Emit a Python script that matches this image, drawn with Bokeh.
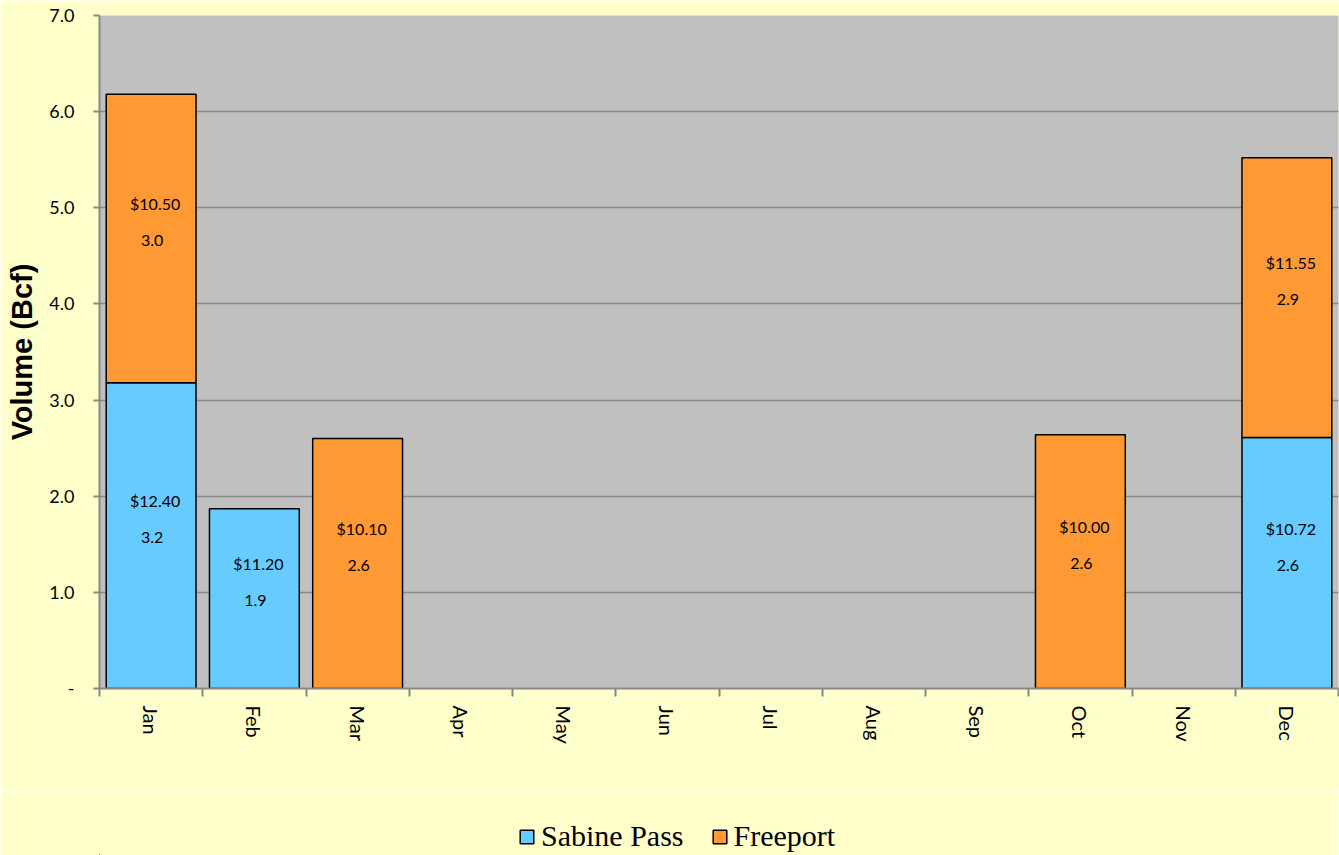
import math
from bokeh.plotting import figure
from bokeh.layouts import column
from bokeh.models import (ColumnDataSource, Range1d, FixedTicker, Legend, LegendItem)
from bokeh.core.properties import value
from bokeh.embed import file_html
from bokeh.resources import INLINE

months = ["Jan", "Feb", "Mar", "Apr", "May", "Jun", "Jul", "Aug", "Sep", "Oct", "Nov", "Dec"]
sabine = [3.18, 1.87, 0, 0, 0, 0, 0, 0, 0, 0, 0, 2.61]
freeport = [3.00, 0, 2.60, 0, 0, 0, 0, 0, 0, 2.64, 0, 2.91]
sabine_price = ["$12.40", "$11.20", "", "", "", "", "", "", "", "", "", "$10.72"]
freeport_price = ["$10.50", "", "$10.10", "", "", "", "", "", "", "$10.00", "", "$11.55"]
series_names = ["Sabine Pass", "Freeport"]
y_ticks = [0, 1, 2, 3, 4, 5, 6, 7]

BLUE = "#66CCFF"
ORANGE = "#FF9933"
YELLOW = "#FFFFCC"
GRAY = "#888888"

def build(vals, bottoms, prices):
    xs, tops, bots, mids, vl, pl = [], [], [], [], [], []
    for i, v in enumerate(vals):
        if v > 0:
            xs.append(i + 0.5)
            bots.append(bottoms[i])
            tops.append(bottoms[i] + v)
            mids.append(bottoms[i] + v / 2)
            vl.append(f"{v:.1f}")
            pl.append(prices[i])
    return ColumnDataSource(dict(x=xs, top=tops, bottom=bots, mid=mids, vlab=vl, plab=pl))

src_s = build(sabine, [0] * 12, sabine_price)
src_f = build(freeport, sabine, freeport_price)

p = figure(width=1339, height=790, output_backend="svg", toolbar_location=None,
           x_range=Range1d(0, 12), y_range=Range1d(0, 7),
           min_border_left=99, min_border_top=15, min_border_right=1, min_border_bottom=102)
p.background_fill_color = "#C0C0C0"
p.border_fill_color = YELLOW
p.outline_line_color = None

r_s = p.vbar(x="x", top="top", bottom="bottom", width=0.87, source=src_s,
             fill_color=BLUE, line_color="black", line_width=1.5)
r_f = p.vbar(x="x", top="top", bottom="bottom", width=0.87, source=src_f,
             fill_color=ORANGE, line_color="black", line_width=1.5)

for src in (src_s, src_f):
    p.text(x="x", y="mid", text="vlab", source=src, text_align="center",
           text_baseline="middle", text_font=value("Lato"), text_font_size="16px",
           text_color="black", y_offset=2, x_offset=1)
    p.text(x="x", y="mid", text="plab", source=src, text_align="center",
           text_baseline="middle", text_font=value("Lato"), text_font_size="16px",
           text_color="black", y_offset=-35, x_offset=4)

# x axis
p.xaxis.ticker = FixedTicker(ticks=[i + 0.5 for i in range(12)], minor_ticks=list(range(13)))
p.xaxis.major_label_overrides = {i + 0.5: m for i, m in enumerate(months)}
p.xaxis.major_label_orientation = -math.pi / 2
p.xaxis.major_tick_out = 0
p.xaxis.major_tick_in = 0
p.xaxis.minor_tick_out = 8
p.xaxis.minor_tick_in = 0
p.xaxis.minor_tick_line_color = GRAY
p.xaxis.minor_tick_line_width = 2
p.xaxis.axis_line_color = GRAY
p.xaxis.axis_line_width = 2
p.xaxis.major_label_text_font = "Lato"
p.xaxis.major_label_text_font_size = "20px"
p.xaxis.major_label_text_color = "black"
p.xaxis.major_label_standoff = 9

# y axis
p.yaxis.ticker = FixedTicker(ticks=y_ticks)
p.yaxis.major_label_overrides = {t: ("-" if t == 0 else f"{t:.1f}") for t in y_ticks}
p.yaxis.major_tick_out = 6
p.yaxis.major_tick_in = 0
p.yaxis.minor_tick_line_color = None
p.yaxis.major_tick_line_color = GRAY
p.yaxis.major_tick_line_width = 2
p.yaxis.axis_line_color = GRAY
p.yaxis.axis_line_width = 2
p.yaxis.major_label_text_font = "Lato"
p.yaxis.major_label_text_font_size = "18px"
p.yaxis.major_label_text_color = "black"
p.yaxis.major_label_standoff = 19
p.yaxis.axis_label = "Volume (Bcf)"
p.yaxis.axis_label_text_font = "Liberation Sans"
p.yaxis.axis_label_text_font_style = "bold"
p.yaxis.axis_label_text_font_size = "29px"
p.yaxis.axis_label_text_color = "black"
p.yaxis.axis_label_standoff = 8

p.xgrid.grid_line_color = None
p.ygrid.ticker = FixedTicker(ticks=y_ticks)
p.ygrid.grid_line_color = GRAY
p.ygrid.grid_line_width = 1.5

# legend strip below the chart (its bars lie far outside this strip's ranges)
p2 = figure(width=1339, height=65, output_backend="svg", toolbar_location=None,
            x_axis_location=None, y_axis_location=None,
            x_range=Range1d(100, 112), y_range=Range1d(100, 110),
            min_border_left=0, min_border_right=0, min_border_top=0, min_border_bottom=0)
p2.grid.grid_line_color = None
p2.outline_line_color = None
p2.background_fill_color = YELLOW
p2.border_fill_color = YELLOW
l_s = p2.vbar(x="x", top="top", bottom="bottom", width=0.87, source=src_s,
              fill_color=BLUE, line_color="black", line_width=1.5)
l_f = p2.vbar(x="x", top="top", bottom="bottom", width=0.87, source=src_f,
              fill_color=ORANGE, line_color="black", line_width=1.5)

legend = Legend(items=[LegendItem(label=series_names[0], renderers=[l_s]),
                       LegendItem(label=series_names[1], renderers=[l_f])],
                orientation="horizontal", location=(419, 2),
                background_fill_alpha=0, border_line_color=None,
                label_text_font="Liberation Serif", label_text_font_size="30px",
                label_text_color="black", glyph_width=17, glyph_height=17,
                spacing=27, padding=0, margin=0, label_standoff=6)
p2.add_layout(legend, "center")

layout = column(p, p2, spacing=0)
open("out.html", "w").write(file_html(layout, INLINE))
